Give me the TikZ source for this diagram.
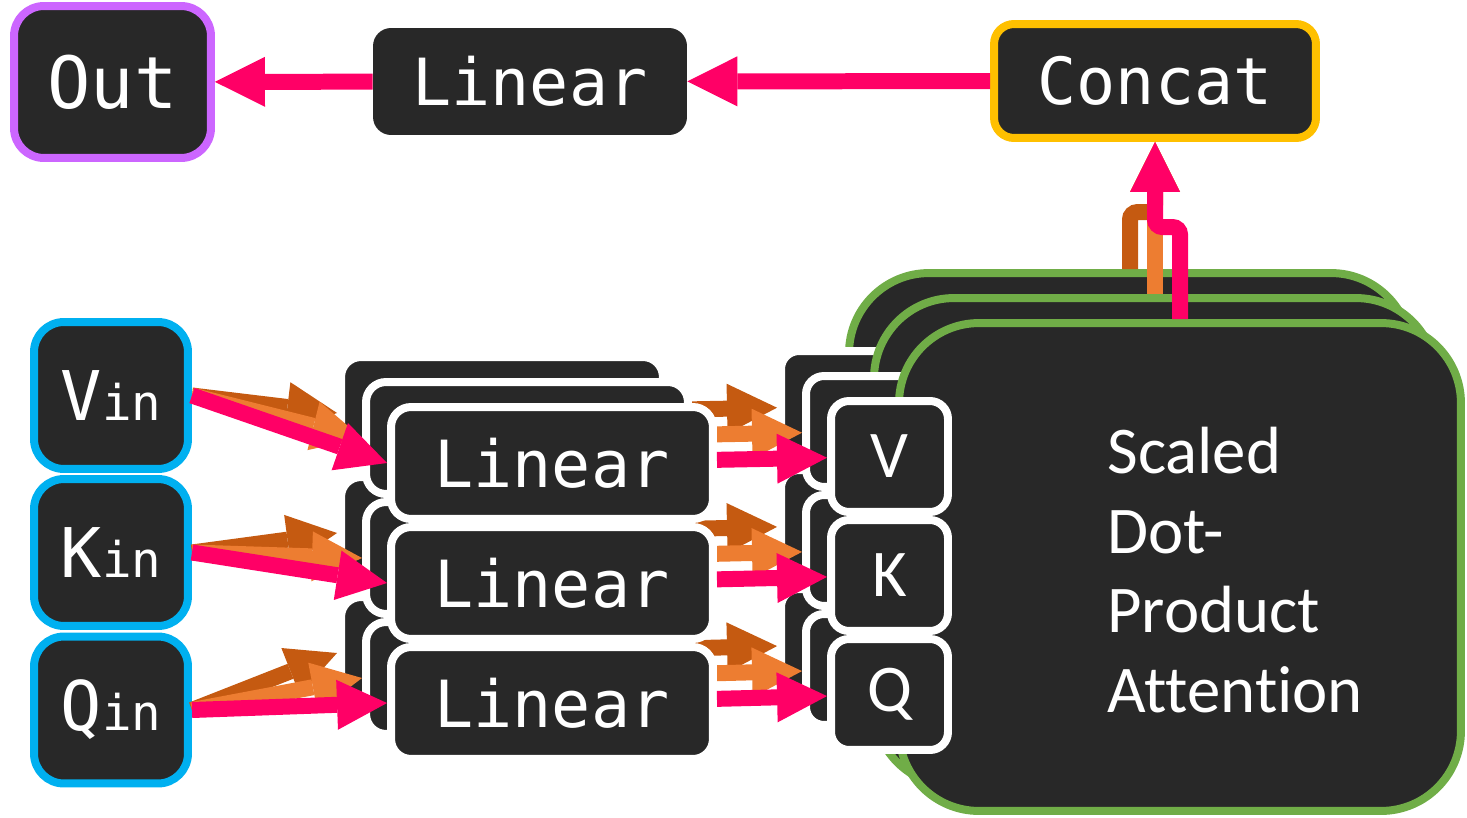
\documentclass[tikz,border=0pt]{standalone}
\usepackage{fontspec}
\setmainfont{Carlito}[Ligatures={NoCommon}]
\setmonofont{DejaVu Sans Mono}
\usetikzlibrary{arrows.meta}

\definecolor{boxgray}{HTML}{282828}
\definecolor{hotpink}{HTML}{FF0066}
\definecolor{orangeA}{HTML}{ED7D31}
\definecolor{orangeB}{HTML}{C55A11}
\definecolor{leafgreen}{HTML}{70AD47}
\definecolor{skyblue}{HTML}{00B0F0}
\definecolor{amber}{HTML}{FFC000}
\definecolor{lilac}{HTML}{CC66FF}

\tikzset{
  blk/.style={fill=boxgray, text=white, inner sep=0pt, rounded corners=0.4cm},
  rim/.style={draw=#1, line width=0.16cm},
  linbox/.style={blk, rim=white, minimum width=6.44cm, minimum height=2.24cm, font=\ttfamily\fontsize{37}{40}\selectfont},
  vkqbox/.style={blk, rim=white, minimum width=2.34cm, minimum height=2.22cm, rounded corners=0.36cm, font=\fontsize{38}{40}\selectfont},
  sdpbox/.style={blk, rim=leafgreen, minimum width=11.24cm, minimum height=9.76cm, rounded corners=1.6cm},
  inbox/.style={blk, rim=skyblue, minimum width=3.08cm, minimum height=2.94cm, rounded corners=0.6cm, font=\ttfamily\fontsize{39}{42}\selectfont},
  flow/.style={draw=#1, color=#1, line width=0.32cm, -{Triangle[length=1cm,width=1cm,line width=0pt]}},
  feed/.style={every edge/.append style={flow=#1}},
  jog/.style={rounded corners=0.15cm},
}
\newcommand{\sub}[1]{{\fontsize{28}{30}\selectfont #1}}

\begin{document}
\begin{tikzpicture}[x=0.02cm,y=-0.02cm]
    \useasboundingbox (0,0) rectangle (1467,818);
    \node[blk, rim=lilac, minimum width=3.94cm, minimum height=3.04cm, rounded corners=0.6cm, font=\ttfamily\fontsize{41}{44}\selectfont] (out) at (112.5,82) {Out};
    \node[blk, minimum width=6.28cm, minimum height=2.14cm, rounded corners=0.36cm, font=\ttfamily\fontsize{37}{40}\selectfont] (lintop) at (530,81.5) {Linear};
    \node[blk, rim=amber, minimum width=6.44cm, minimum height=2.28cm, font=\ttfamily\fontsize{37}{40}\selectfont] (concat) at (1155,81) {Concat};
    \path[feed=hotpink] (lintop) edge (out) (concat) edge (lintop);

    \node[inbox] (vin) at (111,395.5) {V\sub{in}};
    \node[inbox] (kin) at (111,552.5) {K\sub{in}};
    \node[inbox] (qin) at (111,710) {Q\sub{in}};

    \node[sdpbox] (sdpab) at (1130,517) {};
    \node[vkqbox] (vb) at (839.5,406.5) {};
    \node[vkqbox] (kb) at (839.5,525.5) {};
    \node[vkqbox] (qb) at (839.5,644.5) {};
    \node[linbox] (lb1) at (502,413) {};
    \node[linbox] (lb2) at (502,533) {};
    \node[linbox] (lb3) at (502,653) {};
    \path[feed=orangeB] (vin.east) edge (lb1.west) (kin.east) edge (lb2.west) (qin.east) edge (lb3.west)
        (lb1) edge (vb) (lb2) edge (kb) (lb3) edge (qb);
    \draw[flow=orangeB, jog] (sdpab.north) -- ++(0,-57) -| (concat.south);

    \node[sdpbox] (sdpam) at (1155,542) {};
    \node[vkqbox] (vm) at (864.5,431.5) {};
    \node[vkqbox] (km) at (864.5,550.5) {};
    \node[vkqbox] (qm) at (864.5,669.5) {};
    \node[linbox] (lm1) at (527,438) {};
    \node[linbox] (lm2) at (527,558) {};
    \node[linbox] (lm3) at (527,678) {};
    \path[feed=orangeA] (vin.east) edge (lm1.west) (kin.east) edge (lm2.west) (qin.east) edge (lm3.west)
        (lm1) edge (vm) (lm2) edge (km) (lm3) edge (qm);
    \draw[flow=orangeA] (sdpam.north) -- (concat.south);

    \node[sdpbox] (sdpaf) at (1180,567) {};
    \node[anchor=west, align=left, text=white, inner sep=0pt, font=\fontsize{38}{45.4}\selectfont] (sdpatxt) at (1107,570) {Scaled\\Dot-\\Product\\Attention};
    \node[vkqbox] (vf) at (889.5,456.5) {V};
    \node[vkqbox] (kf) at (889.5,575.5) {K};
    \node[vkqbox] (qf) at (889.5,694.5) {Q};
    \node[linbox] (lf1) at (552,463) {Linear};
    \node[linbox] (lf2) at (552,583) {Linear};
    \node[linbox] (lf3) at (552,703) {Linear};
    \path[feed=hotpink] (vin.east) edge (lf1.west) (kin.east) edge (lf2.west) (qin.east) edge (lf3.west)
        (lf1) edge (vf) (lf2) edge (kf) (lf3) edge (qf);
    \draw[flow=hotpink, jog] (sdpaf.north) -- ++(0,-92) -| (concat.south);
\end{tikzpicture}
\end{document}
